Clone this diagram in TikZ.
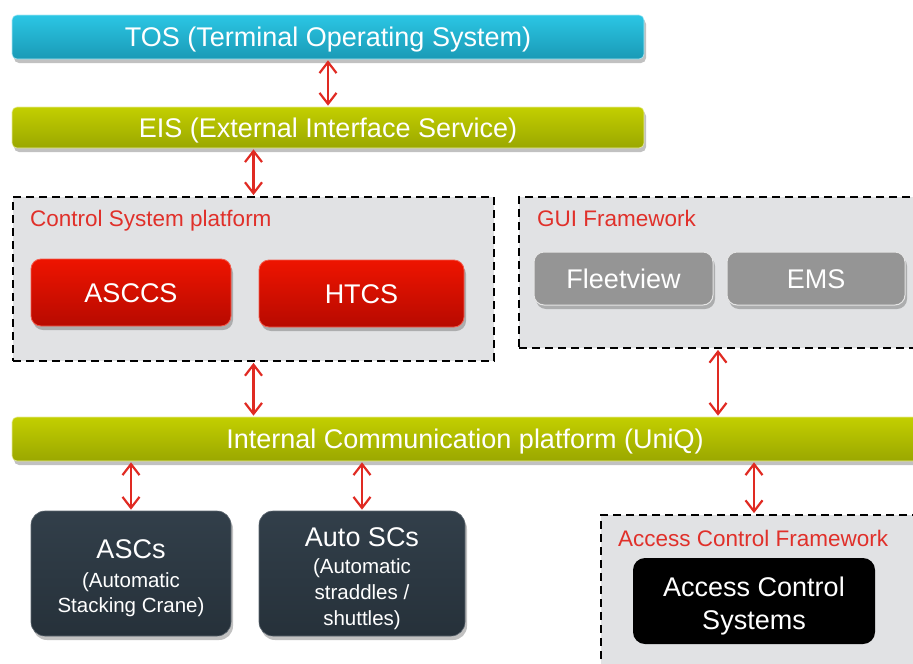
\documentclass[tikz,border=0pt]{standalone}
\usepackage{fontspec}
\setmainfont{Liberation Sans}
\usetikzlibrary{arrows.meta,shadows,shadings}

\definecolor{tosTop}{HTML}{2BC6E4}
\definecolor{tosBot}{HTML}{1A9AB6}
\definecolor{barTop}{HTML}{C3CF00}
\definecolor{barBot}{HTML}{9AA700}
\definecolor{panelFill}{HTML}{E1E2E4}
\definecolor{redTop}{HTML}{EE1400}
\definecolor{redBot}{HTML}{B70A00}
\definecolor{guiGray}{HTML}{959595}
\definecolor{slateTop}{HTML}{323F4A}
\definecolor{slateBot}{HTML}{26313A}
\definecolor{labelRed}{HTML}{E0302A}
\definecolor{linkRed}{HTML}{E02A22}

\tikzset{
  every node/.style={inner sep=0pt, align=center},
  softshadow/.style={drop shadow={shadow xshift=2pt, shadow yshift=-4pt, opacity=0.35, fill=black!70}},
  bigtext/.style={font=\fontsize{27}{32}\selectfont, text=white, text height=19.5pt, text depth=0pt},
  smalltext/.style={font=\fontsize{20.5}{25.5}\selectfont, text=white, anchor=base},
  headtext/.style={font=\fontsize{27}{32}\selectfont, text=white, anchor=base},
  bar/.style={rounded corners=5pt, draw=#1!40!white, line width=0.6pt, softshadow, bigtext},
  tosbar/.style={bar=tosTop, top color=tosTop, bottom color=tosBot},
  greenbar/.style={bar=barTop, top color=barTop, bottom color=barBot},
  panel/.style={fill=panelFill, draw=black, line width=1.8pt, dash pattern=on 8pt off 5pt},
  paneltitle/.style={anchor=base west, text=labelRed, font=\fontsize{22.5}{27}\selectfont},
  redbox/.style={rounded corners=10pt, top color=redTop, bottom color=redBot, draw=redTop!70!white, line width=0.8pt, softshadow, bigtext},
  graybox/.style={rounded corners=10pt, fill=guiGray, draw=white!80!gray, line width=1pt, softshadow, bigtext},
  slatebox/.style={rounded corners=14pt, top color=slateTop, bottom color=slateBot, draw=slateTop!80!white, line width=0.6pt, softshadow},
  blackbox/.style={rounded corners=12pt, fill=black},
  link/.style={draw=linkRed, line width=2.2pt, {Straight Barb[length=11pt,width=17pt,line width=2.2pt]}-{Straight Barb[length=11pt,width=17pt,line width=2.2pt]}, shorten <=1pt, shorten >=1pt}
}

\begin{document}
\begin{tikzpicture}[x=1pt,y=-1pt]
\useasboundingbox (0,0) rectangle (913,664);

% top-level systems
\node[tosbar, minimum width=632pt, minimum height=44pt] (tos) at (328,37) {TOS (Terminal Operating System)};
\node[greenbar, minimum width=632pt, minimum height=41pt] (eis) at (328,127.5) {EIS (External Interface Service)};

% control system platform
\node[panel, minimum width=481pt, minimum height=164pt] (csp) at (253.5,279) {};
\node[paneltitle] (csptitle) at (30,226) {Control System platform};
\node[redbox, minimum width=200pt, minimum height=67pt] (asccs) at (131,292.5) {ASCCS};
\node[redbox, minimum width=205pt, minimum height=67pt] (htcs) at (361.5,293.5) {HTCS};

% GUI framework
\node[panel, minimum width=406pt, minimum height=151pt] (gui) at (722,272.5) {};
\node[paneltitle] (guititle) at (537,226) {GUI Framework};
\node[graybox, minimum width=179pt, minimum height=53pt] (fleet) at (623.5,278.5) {Fleetview};
\node[graybox, minimum width=178pt, minimum height=53pt] (ems) at (816,278.5) {EMS};

% internal communication bus
\node[greenbar, minimum width=906pt, minimum height=44pt] (icp) at (465,439) {Internal Communication platform (UniQ)};

% equipment
\node[slatebox, minimum width=200pt, minimum height=125pt] (ascs) at (131,573.5) {};
\node[headtext] (ascs1) at (131,558) {ASCs};
\node[smalltext] (ascs2) at (131,587) {(Automatic};
\node[smalltext] (ascs3) at (131,612) {Stacking Crane)};

\node[slatebox, minimum width=206pt, minimum height=125pt] (autosc) at (362,573.5) {};
\node[headtext] (autosc1) at (362,546) {Auto SCs};
\node[smalltext] (autosc2) at (362,573) {(Automatic};
\node[smalltext] (autosc3) at (362,599) {straddles /};
\node[smalltext] (autosc4) at (362,625) {shuttles)};

% access control framework
\node[panel, minimum width=324pt, minimum height=165pt] (acf) at (763,597.5) {};
\node[paneltitle] (acftitle) at (618,546) {Access Control Framework};
\node[blackbox, minimum width=242pt, minimum height=86pt] (acs) at (754,601) {};
\node[headtext] (acs1) at (754,596) {Access Control};
\node[headtext] (acs2) at (754,629) {Systems};

% links
\draw[link] (tos.south) -- (eis.north);
\draw[link] (eis.south -| csp.north) -- (csp.north);
\draw[link] (csp.south) -- (csp.south |- icp.north);
\coordinate (guiport) at ([xshift=-4pt]gui.south);
\draw[link] (guiport) -- (guiport |- icp.north);
\draw[link] (icp.south -| ascs.north) -- (ascs.north);
\draw[link] (icp.south -| autosc.north) -- (autosc.north);
\draw[link] (icp.south -| acs.north) -- (acs.north |- acf.north);
\end{tikzpicture}
\end{document}
